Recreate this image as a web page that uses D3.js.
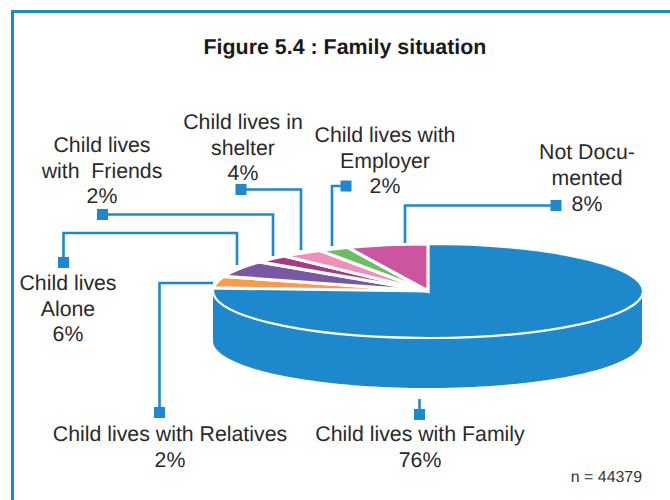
<!DOCTYPE html>
<html><head><meta charset="utf-8">
<script src="https://cdn.jsdelivr.net/npm/d3@7"></script>
<style>html,body{margin:0;padding:0;background:#fff}svg{display:block}text{font-family:"Liberation Sans",Arial,sans-serif;text-rendering:geometricPrecision}</style>
</head><body><script>
// Slices clockwise from 12 o'clock
const categories = ["Child lives with Family","Child lives with Relatives","Child lives Alone","Child lives with Friends","Child lives in shelter","Child lives with Employer","Not Documented"];
const percents = [76,2,6,2,4,2,8];               // printed labels
const drawnShares = [76,4,5.6,2.7,3.25,2.3,6.1]; // angular share as actually drawn in the tilted pie
const colors = ["#1e88cc","#f99b4b","#7a57a3","#a23d85","#f08fbc","#6cbd63","#cd559f"];
const labelLines = [
  ["Child lives with Family","76%"],
  ["Child lives with Relatives","2%"],
  ["Child lives","Alone","6%"],
  ["Child lives","with  Friends","2%"],
  ["Child lives in","shelter","4%"],
  ["Child lives with","Employer","2%"],
  ["Not Docu-","mented","8%"]
];
const labelAnchors = [[420,441],[170,441],[68,290],[102,152],[243,129],[385,142],[587,159]];
const lineHeights = [26,26,25.5,25.5,25.5,25.5,26];
const leaders = [
  [[419.5,399],[419.5,414.5]],
  [[213,283],[159.5,283],[159.5,412.5]],
  [[237,265],[237,233],[63.5,233],[63.5,262.5]],
  [[273,256],[273,214.5],[102.5,214.5]],
  [[301,250],[301,189.5],[241,189.5]],
  [[332,246],[332,186],[346,186]],
  [[405,243],[405,205.5],[556,205.5]]
];
const W=670,H=500,blue="#1e88cc";
const cx=428,cy=291,rx=215,ry=47,depth=50;
const svg=d3.select("body").append("svg").attr("width",W).attr("height",H);

svg.append("path").attr("d","M12.5 500V11.5H670").attr("fill","none").attr("stroke",blue).attr("stroke-width",3);

svg.append("text").attr("x",345).attr("y",54).attr("text-anchor","middle")
  .attr("font-size",21.4).attr("font-weight","bold").attr("fill","#1a1a1a").text("Figure 5.4 : Family situation");
svg.append("text").attr("x",642).attr("y",482).attr("text-anchor","end")
  .attr("font-size",15.9).attr("fill","#333").text("n = 44379");

const pie=d3.pie().value(d=>d).sort(null);
const arcs=pie(drawnShares);
const arc=d3.arc().innerRadius(0).outerRadius(rx);
const squash=ry/rx;

// Side wall of the Family slice
const ang=d3.range(0,181,2).map(a=>a*Math.PI/180);
const sideX=d3.scaleLinear().domain([-1,1]).range([cx-rx,cx+rx-1]);
const sideY=d3.scaleLinear().domain([-1,1]).range([cy-ry,cy+ry]);
const side=ang.map(a=>[sideX(Math.cos(a)),sideY(Math.sin(a))+depth]);
const rim=ang.slice().reverse().map(a=>[sideX(Math.cos(a)),sideY(Math.sin(a))]);
svg.append("path").attr("d",d3.line()(side.concat(rim))+"Z").attr("fill",blue);

// Top faces
svg.append("g").attr("transform",`translate(${cx},${cy}) scale(1,${squash})`)
  .selectAll("path").data(arcs).join("path")
  .attr("d",arc).attr("fill",(d,i)=>colors[i])
  .attr("stroke","#fff").attr("stroke-width",(d,i)=>i===0?2.2:3.2)
  .attr("stroke-linejoin","miter")
  .attr("vector-effect","non-scaling-stroke");

// Leaders
const lg=svg.append("g");
leaders.forEach(p=>{
  lg.append("path").attr("d",d3.line()(p)).attr("fill","none").attr("stroke",blue).attr("stroke-width",2.6);
  const e=p[p.length-1];
  lg.append("rect").attr("x",e[0]-5.5).attr("y",e[1]-5.5).attr("width",11).attr("height",11).attr("fill",blue);
});

// Labels
labelLines.forEach((ls,i)=>{
  const t=svg.append("text").attr("text-anchor","middle").attr("font-size",21.3).attr("fill","#2a2a2a")
    .style("white-space","pre");
  ls.forEach((s,j)=>t.append("tspan").attr("x",labelAnchors[i][0]).attr("y",labelAnchors[i][1]+j*lineHeights[i]).text(s));
});
</script></body></html>
